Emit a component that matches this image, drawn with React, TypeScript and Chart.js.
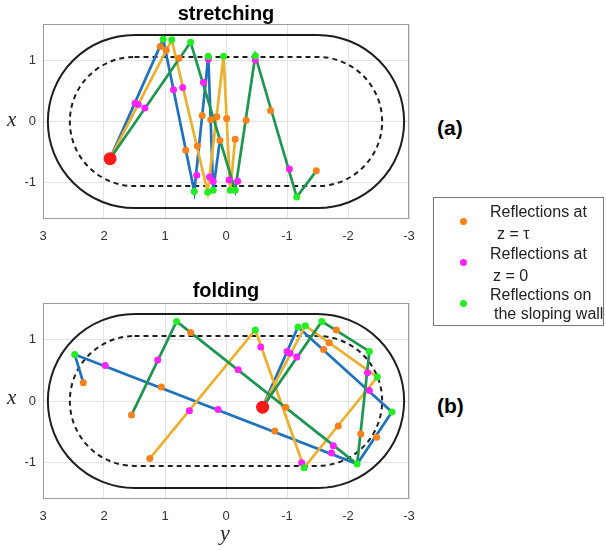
import React, { useEffect, useRef } from 'react';
import { Chart, registerables } from 'chart.js';

Chart.register(...registerables);

// Each point is [y, x]: horizontal axis is y (reversed), vertical axis is x.
type P = [number, number];

const xTickValues = [-3, -2, -1, 0, 1, 2, 3];
const yTickValues = [-1, 0, 1];
const X_MIN = -3, X_MAX = 3, Y_MIN = -1.6, Y_MAX = 1.6;

// stadium geometry (outer sloping wall edge, inner dashed edge)
const STADIUM_HALF = 1.5;
const OUTER_R = 1.42;
const INNER_R = 1.06;

// ---------- (a) stretching ----------
const aStart: P = [1.9, -0.61];
const aBluePath: P[] = [[1.9, -0.61], [1.03, 1.35], [0.52, -1.15], [0.29, 1.07], [0.21, -1.13], [0.1, -0.31]];
const aYellowPath: P[] = [[1.9, -0.61], [0.89, 1.34], [0.3, -1.16], [0.04, 1.07], [-0.07, -1.13], [-0.15, -0.29]];
const aGreenPath: P[] = [[1.9, -0.61], [0.58, 1.3], [-0.15, -1.13], [-0.48, 1.08], [-1.16, -1.24], [-1.48, -0.81]];
const aOrangeDots: P[] = [[1.08, 1.23], [0.66, -0.47], [0.39, 0.1], [0.25, 0.03], [0.1, -0.31], [0.98, 1.17], [0.47, -0.4], [0.15, 0.08], [-0.01, 0.05], [-0.15, -0.29], [0.77, 1.04], [-0.33, 0.02], [-0.73, 0.18], [-1.48, -0.81]];
const aMagentaDots: P[] = [[1.49, 0.3], [0.86, 0.52], [0.48, -0.88], [0.21, -0.98], [0.29, 1.02], [1.44, 0.28], [0.71, 0.56], [0.27, -0.91], [-0.05, -0.96], [1.33, 0.22], [0.37, 0.64], [-0.19, -0.98], [-0.48, 1.01], [-1.04, -0.78]];
const aGreenDots: P[] = [[1.03, 1.35], [0.52, -1.15], [0.29, 1.07], [0.21, -1.13], [0.89, 1.34], [0.3, -1.16], [0.04, 1.07], [-0.07, -1.13], [0.58, 1.3], [-0.15, -1.13], [-0.48, 1.08], [-1.16, -1.24]];

// ---------- (b) folding ----------
const bStart: P = [-0.6, -0.1];
const bBluePath: P[] = [[-0.6, -0.1], [-1.18, 1.21], [-2.72, -0.18], [-2.15, -1.03], [2.48, 0.76], [2.34, 0.3]];
const bYellowPath: P[] = [[-0.6, -0.1], [-1.3, 1.23], [-2.48, 0.39], [-1.28, -1.09], [-0.48, 1.16], [1.25, -0.94]];
const bGreenPath: P[] = [[-0.6, -0.1], [-1.57, 1.3], [-2.35, 0.81], [-2.15, -1.03], [0.81, 1.3], [1.55, -0.23]];
const bOrangeDots: P[] = [[-1.6, 0.84], [-2.47, -0.59], [-0.8, -0.49], [1.06, 0.23], [2.34, 0.3], [-1.69, 0.95], [-1.84, -0.41], [1.25, -0.94], [-1.81, 1.16], [-2.21, -0.54], [-0.98, -0.1], [0.58, 1.12], [1.55, -0.23]];
const bMagentaDots: P[] = [[-1.0, 0.81], [-2.35, 0.17], [-1.73, -0.85], [0.13, -0.14], [1.98, 0.58], [-1.05, 0.78], [-2.32, 0.46], [-1.24, -1.01], [-0.57, 0.88], [0.6, -0.16], [-1.16, 0.72], [-1.76, -0.73], [-0.2, 0.51], [1.12, 0.67]];
const bGreenDots: P[] = [[-1.18, 1.21], [-2.72, -0.18], [-2.15, -1.03], [2.48, 0.76], [-1.3, 1.23], [-2.48, 0.39], [-1.28, -1.09], [-0.48, 1.16], [-1.57, 1.3], [-2.35, 0.81], [0.81, 1.3]];

const BLUE = '#1f72bb';
const YELLOW = '#ebb02f';
const GREEN_LINE = '#1e9650';
const ORANGE_DOT = '#f7821b';
const MAGENTA_DOT = '#ff22ff';
const GREEN_DOT = '#22ee22';
const RED_DOT = '#ff1a1a';
const SANS = "'Liberation Sans', Arial, Helvetica, sans-serif";
const SERIF = "'Liberation Serif', 'Times New Roman', serif";

const toXY = (pts: P[]) => pts.map((p) => ({ x: p[0], y: p[1] }));

const stadiumPlugin = {
  id: 'stadium',
  beforeDatasetsDraw(chart: any) {
    const { ctx, chartArea, scales } = chart;
    const xs = scales.x, ys = scales.y;
    const px = (v: number) => xs.getPixelForValue(v);
    const py = (v: number) => ys.getPixelForValue(v);
    const draw = (r: number, dash: number[]) => {
      const rx = Math.abs(px(r) - px(0));
      const ry = Math.abs(py(r) - py(0));
      const cL = px(STADIUM_HALF);
      const cR = px(-STADIUM_HALF);
      const cy = py(0);
      ctx.save();
      ctx.beginPath();
      ctx.moveTo(cL, cy - ry);
      ctx.lineTo(cR, cy - ry);
      ctx.ellipse(cR, cy, rx, ry, 0, -Math.PI / 2, Math.PI / 2, false);
      ctx.lineTo(cL, cy + ry);
      ctx.ellipse(cL, cy, rx, ry, 0, Math.PI / 2, (3 * Math.PI) / 2, false);
      ctx.closePath();
      ctx.setLineDash(dash);
      ctx.lineWidth = 2;
      ctx.strokeStyle = '#1e1e1e';
      ctx.stroke();
      ctx.restore();
    };
    // axes box
    ctx.save();
    ctx.strokeStyle = '#9a9a9a';
    ctx.lineWidth = 1;
    ctx.strokeRect(chartArea.left + 0.5, chartArea.top + 0.5, chartArea.right - chartArea.left - 1, chartArea.bottom - chartArea.top - 1);
    ctx.restore();
    draw(OUTER_R, []);
    draw(INNER_R, [5, 4]);
  },
};

interface PanelProps {
  bluePath: P[];
  yellowPath: P[];
  greenPath: P[];
  orangeDots: P[];
  magentaDots: P[];
  greenDots: P[];
  start: P;
  width: number;
  height: number;
  padTop: number;
}

function Panel(props: PanelProps) {
  const ref = useRef<HTMLCanvasElement | null>(null);
  useEffect(() => {
    if (!ref.current) return;
    const tickFont = { family: SANS, size: 13 };
    const lineDs = (pts: P[], color: string, order: number) => ({
      data: toXY(pts),
      showLine: true,
      borderColor: color,
      borderWidth: 2.7,
      pointRadius: 0,
      pointHoverRadius: 0,
      fill: false,
      tension: 0,
      order,
    });
    const dotDs = (pts: P[], color: string, r: number, order: number) => ({
      data: toXY(pts),
      showLine: false,
      backgroundColor: color,
      borderWidth: 0,
      pointRadius: r,
      pointHoverRadius: r,
      order,
    });
    const chart = new Chart(ref.current, {
      type: 'scatter',
      data: {
        datasets: [
          dotDs([props.start], RED_DOT, 6.5, 0),
          dotDs(props.greenDots, GREEN_DOT, 3.5, 1),
          dotDs(props.magentaDots, MAGENTA_DOT, 3.5, 2),
          dotDs(props.orangeDots, ORANGE_DOT, 3.5, 3),
          lineDs(props.greenPath, GREEN_LINE, 4),
          lineDs(props.yellowPath, YELLOW, 5),
          lineDs(props.bluePath, BLUE, 6),
        ] as any,
      },
      options: {
        responsive: false,
        maintainAspectRatio: false,
        animation: false,
        events: [],
        layout: { padding: { top: props.padTop, right: 11, left: 0, bottom: 0 } },
        plugins: { legend: { display: false }, tooltip: { enabled: false }, title: { display: false } },
        scales: {
          x: {
            type: 'linear',
            min: X_MIN,
            max: X_MAX,
            reverse: true,
            afterBuildTicks: (s: any) => { s.ticks = xTickValues.map((value) => ({ value })); },
            afterFit: (s: any) => { s.height = 31; },
            ticks: { color: '#333', font: tickFont, padding: 10, maxRotation: 0 },
            grid: { color: '#e4e4e4', drawTicks: false },
            border: { display: false },
          },
          y: {
            type: 'linear',
            min: Y_MIN,
            max: Y_MAX,
            afterBuildTicks: (s: any) => { s.ticks = yTickValues.map((value) => ({ value })); },
            afterFit: (s: any) => { s.width = 43; },
            ticks: { color: '#333', font: tickFont, padding: 7 },
            grid: { color: '#e4e4e4', drawTicks: false },
            border: { display: false },
          },
        },
      } as any,
      plugins: [stadiumPlugin],
    });
    return () => chart.destroy();
  }, []);
  return <canvas ref={ref} width={props.width} height={props.height} style={{ display: 'block', width: props.width, height: props.height }} />;
}

const abs = (left: number, top: number, extra: React.CSSProperties = {}): React.CSSProperties => ({
  position: 'absolute', left, top, whiteSpace: 'nowrap', ...extra,
});

export default function App() {
  const titleStyle: React.CSSProperties = { fontFamily: SANS, fontWeight: 'bold', fontSize: 20, lineHeight: '20px', color: '#000', width: 452, textAlign: 'center' };
  const axisLbl: React.CSSProperties = { fontFamily: SERIF, fontStyle: 'italic', fontSize: 21, lineHeight: '22px', color: '#262626' };
  const panelLbl: React.CSSProperties = { fontFamily: SANS, fontWeight: 'bold', fontSize: 21, lineHeight: '22px', color: '#000' };
  const legTxt: React.CSSProperties = { fontFamily: SANS, fontSize: 16, lineHeight: '20px', color: '#222' };
  const dot = (cx: number, cy: number, color: string) => (
    <div style={abs(cx - 3.5, cy - 3.5, { width: 7, height: 7, borderRadius: 3.5, background: color })} />
  );
  return (
    <div style={{ position: 'fixed', left: 0, top: 0, width: 606, height: 551, background: '#fff', overflow: 'hidden' }}>
      <div style={abs(0, 0)}>
        <Panel bluePath={aBluePath} yellowPath={aYellowPath} greenPath={aGreenPath} orangeDots={aOrangeDots} magentaDots={aMagentaDots} greenDots={aGreenDots} start={aStart} width={420} height={250} padTop={24} />
      </div>
      <div style={abs(0, 270)}>
        <Panel bluePath={bBluePath} yellowPath={bYellowPath} greenPath={bGreenPath} orangeDots={bOrangeDots} magentaDots={bMagentaDots} greenDots={bGreenDots} start={bStart} width={420} height={260} padTop={33} />
      </div>
      <div style={abs(0, 3, titleStyle)}>stretching</div>
      <div style={abs(0, 280, titleStyle)}>folding</div>
      <div style={abs(7, 108, axisLbl)}>x</div>
      <div style={abs(7, 386, axisLbl)}>x</div>
      <div style={abs(220, 522, { ...axisLbl, fontSize: 22 })}>y</div>
      <div style={abs(437, 117, panelLbl)}>(a)</div>
      <div style={abs(437, 395, panelLbl)}>(b)</div>
      <div style={abs(433, 197, { width: 171, height: 129, border: '1px solid #777', boxSizing: 'border-box' })} />
      {dot(463, 221, ORANGE_DOT)}
      {dot(463, 262, MAGENTA_DOT)}
      {dot(463, 303, GREEN_DOT)}
      <div style={abs(490, 202, legTxt)}>Reflections at</div>
      <div style={abs(497, 224, legTxt)}>z = τ</div>
      <div style={abs(490, 244, legTxt)}>Reflections at</div>
      <div style={abs(493, 266, legTxt)}>z = 0</div>
      <div style={abs(490, 285, legTxt)}>Reflections on</div>
      <div style={abs(494, 304, legTxt)}>the sloping wall</div>
    </div>
  );
}
